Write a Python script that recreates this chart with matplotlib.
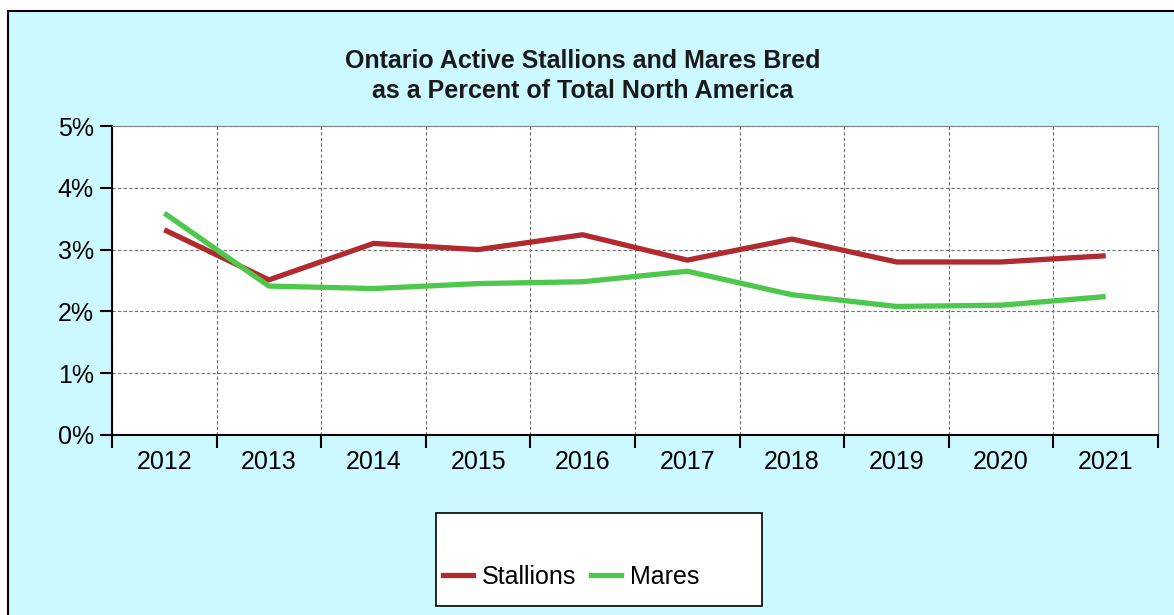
import matplotlib
matplotlib.use("Agg")
import matplotlib.pyplot as plt
from matplotlib.patches import Rectangle
from matplotlib.lines import Line2D
from matplotlib.ticker import FixedLocator, FuncFormatter

years = ["2012", "2013", "2014", "2015", "2016", "2017", "2018", "2019", "2020", "2021"]
stallions = [3.32, 2.51, 3.10, 3.00, 3.24, 2.83, 3.17, 2.80, 2.80, 2.90]
mares = [3.59, 2.41, 2.37, 2.45, 2.48, 2.65, 2.27, 2.08, 2.10, 2.24]
y_ticks = [0, 1, 2, 3, 4, 5]

W, H = 1174, 615
plt.rcParams['font.family'] = ['Liberation Sans', 'DejaVu Sans']
fig = plt.figure(figsize=(W / 100, H / 100), dpi=100)
fig.patch.set_facecolor('white')

bg = Rectangle((8 / W, -0.1), 1.2, 1 - 11 / H + 0.1, transform=fig.transFigure,
               facecolor='#CCF8FF', edgecolor='black', linewidth=1.5, zorder=-10)
fig.add_artist(bg)

ax = fig.add_axes([112 / W, 1 - 435 / H, (1158 - 112) / W, (435 - 126) / H])
ax.set_facecolor('white')

x = list(range(len(years)))
c_st = '#B02A30'
c_ma = '#4DC84D'
ax.plot(x, stallions, color=c_st, linewidth=3.8, solid_capstyle='butt', zorder=3)
ax.plot(x, mares, color=c_ma, linewidth=3.8, solid_capstyle='butt', zorder=3)

ax.set_xlim(-0.5, len(years) - 0.5)
ax.set_ylim(0, 5)

ax.set_xticks(x)
ax.set_xticklabels(years, fontsize=18)
ax.xaxis.set_minor_locator(FixedLocator([i - 0.5 for i in range(len(years) + 1)]))
ax.tick_params(axis='x', which='major', length=0, pad=11)
ax.tick_params(axis='x', which='minor', length=9, width=1.5, direction='out', color='black')

ax.set_yticks(y_ticks)
ax.yaxis.set_major_formatter(FuncFormatter(lambda v, p: f"{int(v)}%"))
ax.tick_params(axis='y', which='major', length=9, width=1.5, direction='out', labelsize=18, pad=4)

ax.grid(which='major', axis='y', color='#707070', linestyle=(0, (3, 2)), linewidth=0.8)
ax.grid(which='minor', axis='x', color='#707070', linestyle=(0, (3, 2)), linewidth=0.8)
ax.set_axisbelow(True)

for s in ['left', 'bottom']:
    ax.spines[s].set_color('black')
    ax.spines[s].set_linewidth(1.5)
for s in ['top', 'right']:
    ax.spines[s].set_color('#808080')
    ax.spines[s].set_linewidth(0.8)

fig.text(583 / W, 1 - 68 / H, "Ontario Active Stallions and Mares Bred",
         ha='center', va='baseline', fontsize=18, fontweight='bold', color='#1a1a1a')
fig.text(583 / W, 1 - 98 / H, "as a Percent of Total North America",
         ha='center', va='baseline', fontsize=18, fontweight='bold', color='#1a1a1a')

lbox = Rectangle((436 / W, 1 - 606 / H), 326 / W, 93 / H, transform=fig.transFigure,
                 facecolor='white', edgecolor='black', linewidth=1.2, zorder=1)
fig.add_artist(lbox)
handles = [Line2D([], [], color=c_st, linewidth=3.8), Line2D([], [], color=c_ma, linewidth=3.8)]
leg = fig.legend(handles, ["Stallions", "Mares"], loc='center left',
                 bbox_to_anchor=(443 / W, 1 - 577 / H), ncol=2, frameon=False,
                 fontsize=18, handlelength=1.2, handletextpad=0.35, columnspacing=0.6,
                 borderpad=0, borderaxespad=0)
leg.set_zorder(2)

fig.savefig("out.png", dpi=100)
